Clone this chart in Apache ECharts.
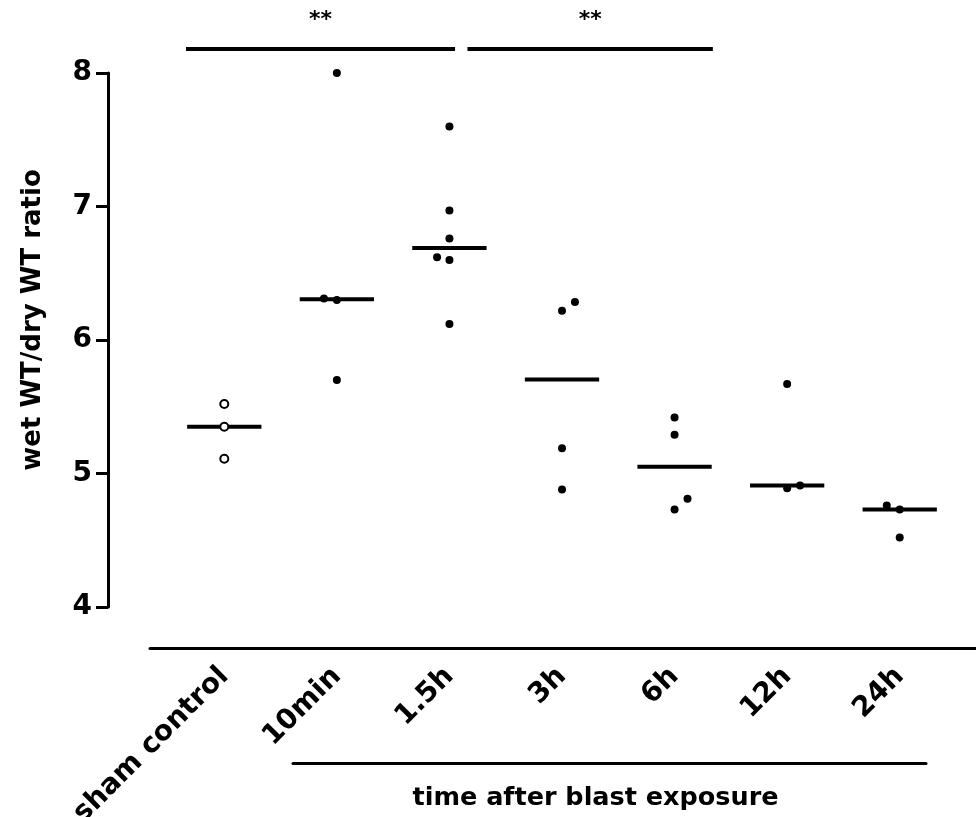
<!DOCTYPE html>
<html>
<head>
<meta charset="utf-8">
<script src="https://cdn.jsdelivr.net/npm/echarts@6/dist/echarts.min.js"></script>
<style>
html,body{margin:0;padding:0;background:#fff;}
#chart{width:976px;height:817px;}
</style>
</head>
<body>
<div id="chart"></div>
<script>
// ---- data ----
const categories = ['sham control', '10min', '1.5h', '3h', '6h', '12h', '24h'];
const shamControl = [5.52, 5.35, 5.11];
const min10 = [8.00, 6.31, 6.30, 5.70];
const h1_5 = [7.60, 6.97, 6.76, 6.62, 6.60, 6.12];
const h3 = [6.22, 6.285, 5.19, 4.88];
const h6 = [5.42, 5.29, 4.81, 4.73];
const h12 = [5.67, 4.89, 4.91];
const h24 = [4.76, 4.73, 4.52];
// horizontal jitter of individual points (category units)
const shamJitter = [0, 0, 0];
const min10Jitter = [0, -0.115, 0, 0];
const h1_5Jitter = [0, 0, 0, -0.11, 0, 0];
const h3Jitter = [0, 0.115, 0, 0];
const h6Jitter = [0, 0, 0.115, 0];
const h12Jitter = [0, 0, 0.115];
const h24Jitter = [-0.115, 0, 0];
const yTicks = [4, 5, 6, 7, 8];
const sigBars = [[-0.34, 2.05], [2.16, 4.34]];
const sigLabels = ['**', '**'];
const sigLevel = 8.18;

const groups = [shamControl, min10, h1_5, h3, h6, h12, h24];
const jitters = [shamJitter, min10Jitter, h1_5Jitter, h3Jitter, h6Jitter, h12Jitter, h24Jitter];

function median(a) {
  const s = a.slice().sort((x, y) => x - y);
  const n = s.length;
  return n % 2 ? s[(n - 1) / 2] : (s[n / 2 - 1] + s[n / 2]) / 2;
}

const openPts = [];
const filledPts = [];
groups.forEach((g, i) => {
  g.forEach((v, j) => {
    const p = [i + jitters[i][j], v];
    if (i === 0) openPts.push(p); else filledPts.push(p);
  });
});
const medians = groups.map((g, i) => [i, median(g)]);
const sigData = sigBars.map((b, k) => [b[0], b[1], sigLevel, k]);

const FONT = 'DejaVu Sans';
const chart = echarts.init(document.getElementById('chart'), null, {renderer: 'canvas'});
const TOP = 73, BOTTOM = 817 - 607;

chart.setOption({
  animation: false,
  backgroundColor: '#ffffff',
  grid: [
    {left: 168, right: 20, top: TOP, bottom: BOTTOM, containLabel: false, outerBoundsMode: 'none'},
    {left: 150, right: 0, top: TOP, bottom: BOTTOM, containLabel: false, outerBoundsMode: 'none'},
    {left: 293, right: 50, top: TOP, bottom: BOTTOM, containLabel: false, outerBoundsMode: 'none'}
  ],
  xAxis: [
    {gridIndex: 0, type: 'value', min: -0.5, max: 6.5, show: false},
    {gridIndex: 0, type: 'category', data: categories, position: 'bottom', offset: 41,
      axisLine: {show: false, onZero: false}, axisTick: {show: false}, splitLine: {show: false},
      axisLabel: {rotate: 45, margin: 24, interval: 0, color: '#000',
        fontFamily: FONT, fontWeight: 'bold', fontSize: 28}},
    {gridIndex: 1, type: 'value', min: 0, max: 1, position: 'bottom', offset: 41,
      axisLine: {show: true, onZero: false, lineStyle: {color: '#000', width: 3}},
      axisTick: {show: false}, axisLabel: {show: false}, splitLine: {show: false}},
    {gridIndex: 2, type: 'value', min: 0, max: 1, position: 'bottom', offset: 156,
      axisLine: {show: true, onZero: false, lineStyle: {color: '#000', width: 3}},
      axisTick: {show: false}, axisLabel: {show: false}, splitLine: {show: false},
      name: 'time after blast exposure', nameLocation: 'middle', nameGap: 22,
      nameTextStyle: {color: '#000', fontFamily: FONT, fontWeight: 'bold', fontSize: 25.5,
        padding: [0, 28, 0, 0]}}
  ],
  yAxis: [
    {gridIndex: 0, type: 'value', min: yTicks[0], max: yTicks[yTicks.length - 1], interval: 1,
      offset: 60,
      axisLine: {show: true, onZero: false, lineStyle: {color: '#000', width: 3}},
      axisTick: {show: true, length: 12, lineStyle: {color: '#000', width: 3}},
      axisLabel: {margin: 16, color: '#000', fontFamily: FONT, fontWeight: 'bold', fontSize: 28},
      splitLine: {show: false},
      name: 'wet WT/dry WT ratio', nameLocation: 'middle', nameGap: 62,
      nameTextStyle: {color: '#000', fontFamily: FONT, fontWeight: 'bold', fontSize: 26,
        padding: [0, 0, 0, 40]}},
    {gridIndex: 1, type: 'value', min: 4, max: 8, show: false},
    {gridIndex: 2, type: 'value', min: 4, max: 8, show: false}
  ],
  series: [
    {
      type: 'custom', xAxisIndex: 0, yAxisIndex: 0, data: medians, z: 2,
      renderItem: function (params, api) {
        const p1 = api.coord([api.value(0) - 0.33, api.value(1)]);
        const p2 = api.coord([api.value(0) + 0.33, api.value(1)]);
        return {type: 'line', shape: {x1: p1[0], y1: p1[1], x2: p2[0], y2: p2[1]},
          style: {stroke: '#000', lineWidth: 4}};
      }
    },
    {
      type: 'scatter', xAxisIndex: 0, yAxisIndex: 0, data: openPts, z: 3,
      symbol: 'circle', symbolSize: 8,
      itemStyle: {color: '#fff', borderColor: '#000', borderWidth: 2, opacity: 1}
    },
    {
      type: 'scatter', xAxisIndex: 0, yAxisIndex: 0, data: filledPts, z: 3,
      symbol: 'circle', symbolSize: 8,
      itemStyle: {color: '#000', opacity: 1}
    },
    {
      type: 'custom', xAxisIndex: 0, yAxisIndex: 0, data: sigData, clip: false, z: 2,
      renderItem: function (params, api) {
        const p1 = api.coord([api.value(0), api.value(2)]);
        const p2 = api.coord([api.value(1), api.value(2)]);
        return {type: 'group', children: [
          {type: 'line', shape: {x1: p1[0], y1: p1[1], x2: p2[0], y2: p2[1]},
            style: {stroke: '#000', lineWidth: 4}},
          {type: 'text', x: (p1[0] + p2[0]) / 2, y: p1[1] - 29,
            style: {text: sigLabels[api.value(3)], fill: '#000',
              font: 'bold 22px "DejaVu Sans"', align: 'center', verticalAlign: 'middle'}}
        ]};
      }
    }
  ]
});
</script>
</body>
</html>
